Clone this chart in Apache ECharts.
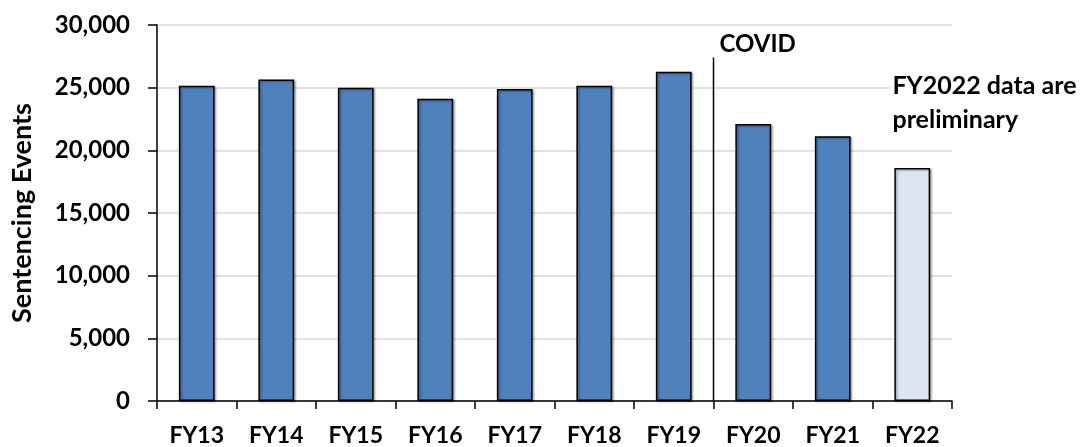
<!DOCTYPE html>
<html><head><meta charset="utf-8">
<script src="https://cdn.jsdelivr.net/npm/echarts@6/dist/echarts.min.js"></script>
<style>html,body{margin:0;padding:0;background:#fff}#c{width:1087px;height:447px}</style>
</head><body><div id="c"></div>
<script>
const categories = ['FY13','FY14','FY15','FY16','FY17','FY18','FY19','FY20','FY21','FY22'];
const events = [25150, 25650, 25000, 24120, 24890, 25150, 26270, 22100, 21120, 18600];
const preliminary = [false,false,false,false,false,false,false,false,false,true];
const yTicks = [0, 5000, 10000, 15000, 20000, 25000, 30000];
const covidPosition = 7;       // boundary between FY19 and FY20 (in category units)
const covidLineTop = 27400;
const covidLabel = 'COVID';
const noteLines = ['FY2022 data are', 'preliminary'];

const FONT = 'Lato';
const chart = echarts.init(document.getElementById('c'));
const fmt = v => v.toLocaleString('en-US');
chart.setOption({
  animation: false,
  textStyle: {fontFamily: FONT},
  grid: {left: 157, right: 135, top: 25, bottom: 45},
  xAxis: [{
    type: 'category', data: categories,
    axisLine: {lineStyle: {color: '#000', width: 1.5}},
    axisTick: {show: true, length: 8, lineStyle: {color: '#000', width: 1.5}},
    axisLabel: {color: '#000', fontWeight: 'bold', fontSize: 23, fontFamily: FONT, margin: 23}
  }, {
    type: 'value', min: 0, max: categories.length, show: false
  }],
  yAxis: {
    type: 'value', min: yTicks[0], max: yTicks[yTicks.length-1], interval: yTicks[1]-yTicks[0],
    name: 'Sentencing Events', nameLocation: 'middle', nameGap: 121, nameRotate: 90,
    nameTextStyle: {color: '#000', fontWeight: 'bold', fontSize: 27, fontFamily: FONT},
    axisLine: {show: true, lineStyle: {color: '#000', width: 1.5}},
    axisTick: {show: true, length: 9, lineStyle: {color: '#000', width: 1.5}},
    axisLabel: {color: '#000', fontWeight: 'bold', fontSize: 24, fontFamily: FONT, margin: 27, formatter: fmt},
    splitLine: {show: true, lineStyle: {color: '#d9d9d9', width: 1.5}}
  },
  series: [{
    type: 'bar', barWidth: '45%',
    data: events.map((v, i) => ({
      value: v,
      itemStyle: {color: preliminary[i] ? '#dce6f2' : '#4f81bd'}
    })),
    itemStyle: {borderColor: '#000', borderWidth: 1.5,
      shadowColor: 'rgba(0,0,0,0.35)', shadowBlur: 2, shadowOffsetX: 1.5, shadowOffsetY: 1}
  }, {
    type: 'line', xAxisIndex: 1, symbol: 'none',
    data: [[covidPosition, 0], [covidPosition, covidLineTop]],
    lineStyle: {color: '#000', width: 1.5},
    endLabel: {show: true, formatter: covidLabel, color: '#000', fontWeight: 'bold', fontSize: 24,
      fontFamily: FONT, align: 'left', verticalAlign: 'bottom', offset: [-2, -1]},
    z: 5
  }],
  graphic: []
});

function placeNote() {
  const p = chart.convertToPixel({xAxisIndex: 1, yAxisIndex: 0}, [categories.length - 0.85, 25000]);
  chart.setOption({graphic: [{
    type: 'text', left: p[0] + 6, top: p[1] - 19, z: 10,
    style: {text: noteLines.join('\n'), fill: '#000', font: 'bold 25px ' + FONT, lineHeight: 34,
      backgroundColor: '#fff', padding: [0, 2, 0, 2]}
  }]});
}
placeNote();
</script></body></html>
